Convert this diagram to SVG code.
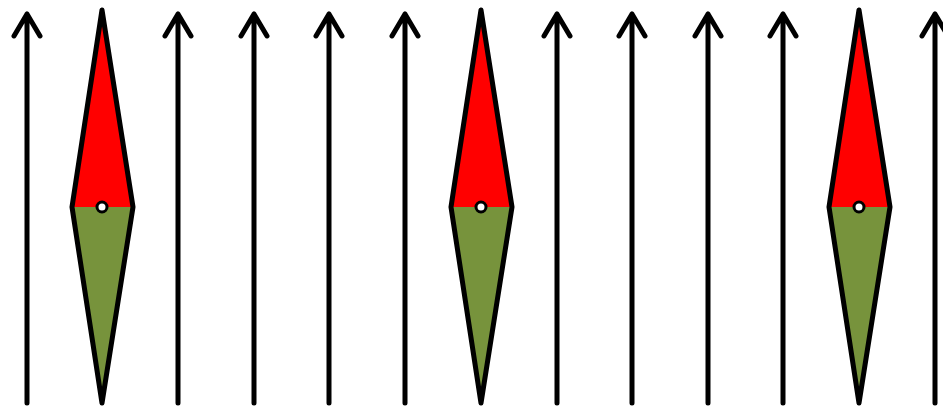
<svg xmlns="http://www.w3.org/2000/svg" width="943" height="407" viewBox="0 0 943 407">
<style>
.ln{stroke:#000;stroke-width:5;fill:none;stroke-linecap:round;stroke-linejoin:round}
.n{stroke:#000;stroke-width:5;stroke-linejoin:round}
.r{fill:#ff0000}
.g{fill:#77933c}
.p{fill:#fff;stroke:#000;stroke-width:3}
</style>
<defs>
<g id="arrow">
<path class="ln" d="M0,403 V14 M-13,36 L0,14 L13,36"/>
</g>
<g id="needle">
<path class="r" d="M0,10 L-30,207 L31,207 Z"/>
<path class="g" d="M0,403 L-30,207 L31,207 Z"/>
<path class="n" fill="none" d="M0,10 L-30,207 L0,403 L31,207 Z"/>
<circle class="p" cx="0" cy="207" r="5"/>
</g>
</defs>
<g id="arrows">
<use href="#arrow" x="27"/>
<use href="#arrow" x="178"/>
<use href="#arrow" x="254"/>
<use href="#arrow" x="329"/>
<use href="#arrow" x="405"/>
<use href="#arrow" x="557"/>
<use href="#arrow" x="632"/>
<use href="#arrow" x="708"/>
<use href="#arrow" x="783"/>
<use href="#arrow" x="935"/>
</g>
<g id="needle1"><use href="#needle" x="102"/></g>
<g id="needle2"><use href="#needle" x="481"/></g>
<g id="needle3"><use href="#needle" x="859"/></g>
</svg>
